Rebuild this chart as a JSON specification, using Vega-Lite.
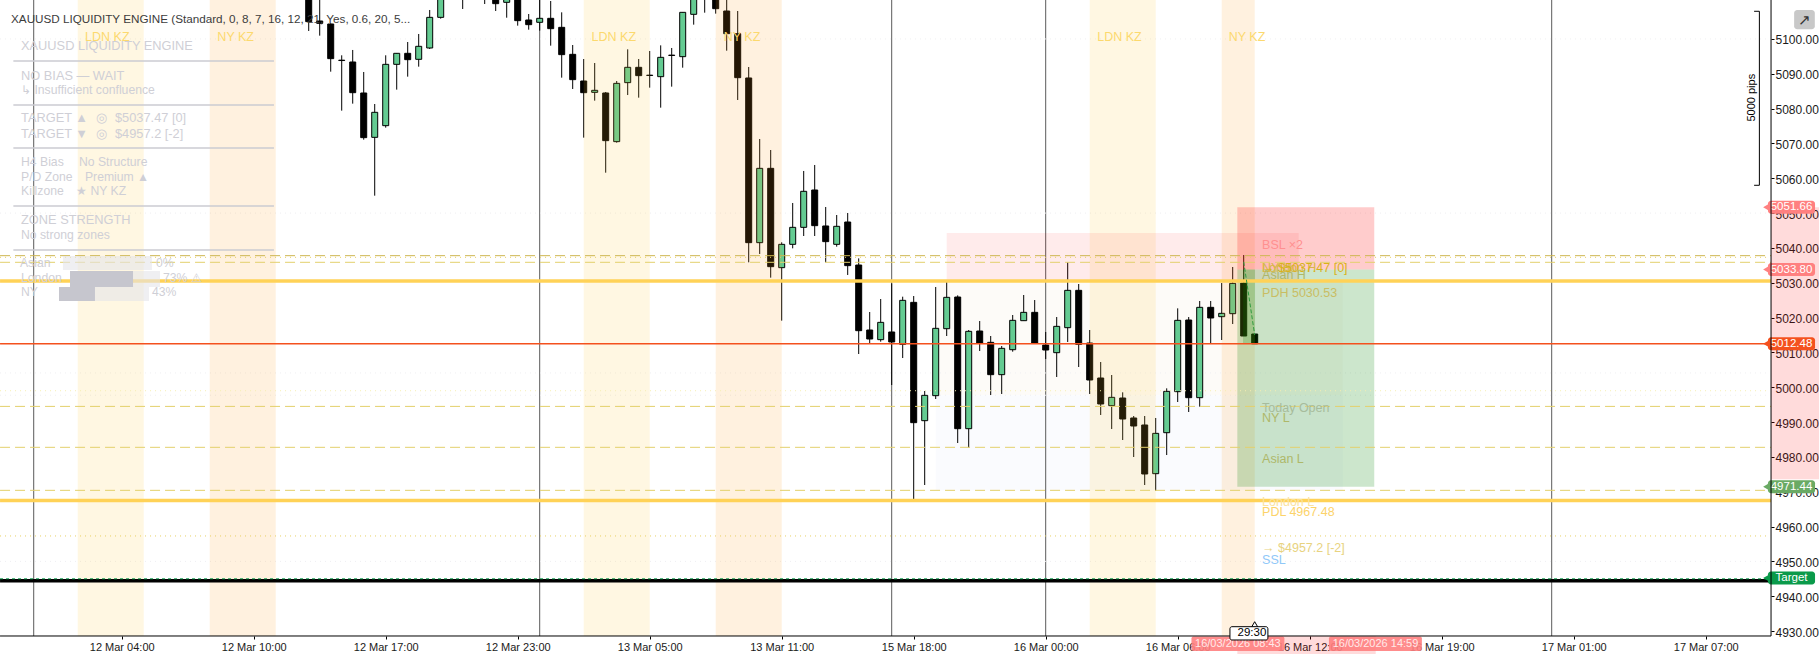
{"$schema":"https://vega.github.io/schema/vega-lite/v6.json","width":1819,"height":654,"padding":0,"autosize":"none","background":"#ffffff",
"config":{"view":{"stroke":null},"text":{"font":"Liberation Sans"}},
"datasets":{
"seps":[{"t":-8,"price":5111.18,"price2":4928.58},{"t":38,"price":5111.18,"price2":4928.58},{"t":70,"price":5111.18,"price2":4928.58},{"t":84,"price":5111.18,"price2":4928.58},{"t":130,"price":5111.18,"price2":4928.58}],
"softBox":[{"t":74,"t2":111,"price":5030.53,"price2":4997.7,"kind":"premium"},{"t":74,"t2":111,"price":4997.7,"price2":4970.4,"kind":"discount"}],
"candles":[
{"t":17,"open":5125,"high":5130,"low":5102.28,"close":5104.96,"dir":"down"},
{"t":18,"open":5105.15,"high":5115,"low":5100.94,"close":5104.48,"dir":"down"},
{"t":19,"open":5104.29,"high":5104.5,"low":5090.6,"close":5094.34,"dir":"down"},
{"t":20,"open":5093.9,"high":5095.3,"low":5079.41,"close":5093.8,"dir":"down"},
{"t":21,"open":5093.38,"high":5096.83,"low":5081.42,"close":5084.57,"dir":"down"},
{"t":22,"open":5084.48,"high":5090.51,"low":5071.08,"close":5071.66,"dir":"down"},
{"t":23,"open":5071.75,"high":5081.32,"low":5055.0,"close":5078.93,"dir":"up"},
{"t":24,"open":5075.1,"high":5095.3,"low":5074.53,"close":5092.71,"dir":"up"},
{"t":25,"open":5092.71,"high":5095.9,"low":5085.44,"close":5095.87,"dir":"up"},
{"t":26,"open":5095.87,"high":5099.12,"low":5089.17,"close":5094.05,"dir":"down"},
{"t":27,"open":5094.15,"high":5101.42,"low":5092.04,"close":5097.88,"dir":"up"},
{"t":28,"open":5097.4,"high":5108.31,"low":5097.11,"close":5106.2,"dir":"up"},
{"t":29,"open":5106.2,"high":5120,"low":5105.82,"close":5118,"dir":"up"},
{"t":31,"open":5115,"high":5118,"low":5108.6,"close":5113,"dir":"down"},
{"t":33,"open":5115,"high":5117,"low":5110.03,"close":5113,"dir":"down"},
{"t":34,"open":5114,"high":5116,"low":5108.02,"close":5110.13,"dir":"down"},
{"t":35,"open":5110.51,"high":5116,"low":5106.1,"close":5114,"dir":"up"},
{"t":36,"open":5113,"high":5115,"low":5103.81,"close":5105.25,"dir":"down"},
{"t":37,"open":5105.44,"high":5107.16,"low":5102.66,"close":5104.1,"dir":"down"},
{"t":38,"open":5104.77,"high":5111.5,"low":5102.38,"close":5105.92,"dir":"up"},
{"t":39,"open":5105.92,"high":5110.89,"low":5098.07,"close":5102.95,"dir":"down"},
{"t":40,"open":5103.33,"high":5107.64,"low":5088.88,"close":5095.49,"dir":"down"},
{"t":41,"open":5095.58,"high":5098.26,"low":5085.63,"close":5088.31,"dir":"down"},
{"t":42,"open":5087.92,"high":5094.24,"low":5071.66,"close":5084.57,"dir":"down"},
{"t":43,"open":5084.67,"high":5093.09,"low":5082.28,"close":5085.25,"dir":"up"},
{"t":44,"open":5084.48,"high":5084.77,"low":5061.6,"close":5070.8,"dir":"down"},
{"t":45,"open":5070.51,"high":5087.92,"low":5070.22,"close":5087.25,"dir":"up"},
{"t":46,"open":5087.45,"high":5097.02,"low":5083.9,"close":5091.85,"dir":"up"},
{"t":47,"open":5091.85,"high":5094.24,"low":5083.14,"close":5089.46,"dir":"down"},
{"t":48,"open":5089.6,"high":5096.54,"low":5086.01,"close":5089.5,"dir":"down"},
{"t":49,"open":5089.17,"high":5098.16,"low":5080.27,"close":5094.72,"dir":"up"},
{"t":50,"open":5095.35,"high":5097.4,"low":5086.3,"close":5095.25,"dir":"down"},
{"t":51,"open":5094.91,"high":5107.64,"low":5091.75,"close":5107.64,"dir":"up"},
{"t":52,"open":5107.07,"high":5118,"low":5104.1,"close":5116,"dir":"up"},
{"t":53,"open":5114,"high":5116,"low":5107.54,"close":5112,"dir":"down"},
{"t":54,"open":5116,"high":5118,"low":5107.26,"close":5108.69,"dir":"down"},
{"t":55,"open":5108.02,"high":5112,"low":5096.63,"close":5101.51,"dir":"down"},
{"t":56,"open":5101.51,"high":5108.02,"low":5082.47,"close":5088.88,"dir":"down"},
{"t":57,"open":5088.79,"high":5091.94,"low":5035.86,"close":5041.51,"dir":"down"},
{"t":58,"open":5041.51,"high":5071.27,"low":5038.26,"close":5062.85,"dir":"up"},
{"t":59,"open":5062.85,"high":5068.11,"low":5031.46,"close":5034.62,"dir":"down"},
{"t":60,"open":5034.33,"high":5041.61,"low":5019.12,"close":5041.03,"dir":"up"},
{"t":61,"open":5041.03,"high":5052.9,"low":5039.88,"close":5045.91,"dir":"up"},
{"t":62,"open":5045.91,"high":5062.09,"low":5043.42,"close":5056.25,"dir":"up"},
{"t":63,"open":5056.63,"high":5063.81,"low":5043.42,"close":5046.39,"dir":"down"},
{"t":64,"open":5046.3,"high":5051.75,"low":5035.86,"close":5041.8,"dir":"down"},
{"t":65,"open":5041.03,"high":5049.45,"low":5040.36,"close":5046.2,"dir":"up"},
{"t":66,"open":5047.44,"high":5050.03,"low":5032.23,"close":5034.91,"dir":"down"},
{"t":67,"open":5035.09,"high":5037.0,"low":5009.54,"close":5016.24,"dir":"down"},
{"t":68,"open":5016.43,"high":5021.6,"low":5012.41,"close":5013.85,"dir":"down"},
{"t":69,"open":5013.66,"high":5025.33,"low":5013.08,"close":5018.63,"dir":"up"},
{"t":70,"open":5015.86,"high":5029.83,"low":5000.64,"close":5012.99,"dir":"down"},
{"t":71,"open":5012.32,"high":5026.0,"low":5008.39,"close":5024.95,"dir":"up"},
{"t":72,"open":5024.37,"high":5026.19,"low":4967.62,"close":4989.83,"dir":"down"},
{"t":73,"open":4990.4,"high":4998.92,"low":4971.93,"close":4997.67,"dir":"up"},
{"t":74,"open":4997.58,"high":5028.78,"low":4996.62,"close":5016.91,"dir":"up"},
{"t":75,"open":5016.81,"high":5030.79,"low":5014.71,"close":5025.81,"dir":"up"},
{"t":76,"open":5025.9,"high":5026.38,"low":4983.99,"close":4988.1,"dir":"down"},
{"t":77,"open":4988.1,"high":5016.43,"low":4982.65,"close":5016.05,"dir":"up"},
{"t":78,"open":5016.14,"high":5019.01,"low":5010.4,"close":5012.7,"dir":"down"},
{"t":79,"open":5012.89,"high":5014.71,"low":4997.77,"close":5003.61,"dir":"down"},
{"t":80,"open":5003.61,"high":5011.84,"low":4998.06,"close":5011.17,"dir":"up"},
{"t":81,"open":5010.78,"high":5020.74,"low":5010.21,"close":5019.21,"dir":"up"},
{"t":82,"open":5019.11,"high":5026.48,"low":5019.11,"close":5021.5,"dir":"up"},
{"t":83,"open":5021.5,"high":5025.04,"low":5012.41,"close":5012.7,"dir":"down"},
{"t":84,"open":5012.12,"high":5015.86,"low":5008.1,"close":5010.69,"dir":"down"},
{"t":85,"open":5009.92,"high":5020.16,"low":5002.94,"close":5017.48,"dir":"up"},
{"t":86,"open":5017.1,"high":5035.86,"low":5012.99,"close":5027.82,"dir":"up"},
{"t":87,"open":5027.82,"high":5029.64,"low":5005.81,"close":5012.32,"dir":"down"},
{"t":88,"open":5012.7,"high":5016.43,"low":4998.06,"close":5002.08,"dir":"down"},
{"t":89,"open":5002.65,"high":5007.24,"low":4992.03,"close":4995.19,"dir":"down"},
{"t":90,"open":4994.71,"high":5003.51,"low":4988.01,"close":4997.1,"dir":"up"},
{"t":91,"open":4996.91,"high":4998.54,"low":4984.85,"close":4990.88,"dir":"down"},
{"t":92,"open":4991.17,"high":4991.74,"low":4979.97,"close":4988.87,"dir":"down"},
{"t":93,"open":4989.16,"high":4991.74,"low":4971.93,"close":4975.09,"dir":"down"},
{"t":94,"open":4975.18,"high":4991.17,"low":4970.21,"close":4986.76,"dir":"up"},
{"t":95,"open":4986.95,"high":4999.68,"low":4980.54,"close":4998.82,"dir":"up"},
{"t":96,"open":4998.73,"high":5022.65,"low":4995.76,"close":5019.21,"dir":"up"},
{"t":97,"open":5019.3,"high":5020.16,"low":4992.89,"close":4997.0,"dir":"down"},
{"t":98,"open":4997.0,"high":5024.76,"low":4994.42,"close":5022.94,"dir":"up"},
{"t":99,"open":5022.94,"high":5024.76,"low":5012.41,"close":5019.88,"dir":"down"},
{"t":100,"open":5020.26,"high":5029.92,"low":5013.56,"close":5021.22,"dir":"up"},
{"t":101,"open":5021.12,"high":5034.52,"low":5018.15,"close":5029.83,"dir":"up"},
{"t":102,"open":5029.92,"high":5037.96,"low":5014.71,"close":5014.71,"dir":"down"},
{"t":103,"open":5015.28,"high":5015.28,"low":5012.41,"close":5012.48,"dir":"down"}],
"bands":[{"t":-4,"t2":2,"price":5111.18,"price2":4928.58,"kind":"LDN"},{"t":8,"t2":14,"price":5111.18,"price2":4928.58,"kind":"NY"},{"t":42,"t2":48,"price":5111.18,"price2":4928.58,"kind":"LDN"},{"t":54,"t2":60,"price":5111.18,"price2":4928.58,"kind":"NY"},{"t":88,"t2":94,"price":5111.18,"price2":4928.58,"kind":"LDN"},{"t":100,"t2":103,"price":5111.18,"price2":4928.58,"kind":"NY"}],
"zoneBox":[{"t":75,"t2":107,"price":5044.28,"price2":5030.53}],
"trade":[{"t":101.42,"t2":113.87,"price":5051.66,"price2":5033.8,"kind":"stop"},{"t":101.42,"t2":113.87,"price":5033.8,"price2":4971.44,"kind":"profit"},{"t":101.94,"t2":103.03,"price":5033.8,"price2":5012.4,"kind":"profit"}],
"gutter":[{"t":149.94,"t2":154.3,"price":5051.66,"price2":4973.56},{"t":101.42,"t2":114,"price":4928.58,"price2":4923.41}],
"dashed":[{"t":-11.06,"t2":149.94,"price":5037.77,"kind":"a"},{"t":-11.06,"t2":149.94,"price":5035.87,"kind":"b"},{"t":-11.06,"t2":149.94,"price":4994.5,"kind":"b"},{"t":-11.06,"t2":149.94,"price":4982.75,"kind":"b"},{"t":-11.06,"t2":149.94,"price":4970.4,"kind":"b"}],
"dottedColor":[{"t":-11.06,"t2":149.7,"price":5037.3,"kind":"gold"},{"t":-11.06,"t2":149.7,"price":4999,"kind":"pale"},{"t":-11.06,"t2":149.7,"price":4957.3,"kind":"gold"}],
"dottedGrey":[{"t":-11.06,"t2":149.7,"price":5100},{"t":-11.06,"t2":149.7,"price":5050},{"t":-11.06,"t2":149.7,"price":5004.1},{"t":-11.06,"t2":149.7,"price":4997.7},{"t":-11.06,"t2":149.7,"price":4950}],
"pdLevels":[{"t":-11.06,"t2":149.94,"price":5030.53},{"t":-11.06,"t2":149.94,"price":4967.48}],
"bidLine":[{"t":-11.06,"t2":149.94,"price":5012.48}],
"targetLine":[{"t":-11.06,"t2":149.94,"price":4944.46}],
"targetDash":[{"t":-11.06,"t2":149.94,"price":4945.0}],
"panelRules":[{"t":-9.85,"t2":13.84,"price":5093.67},{"t":-9.85,"t2":13.84,"price":5081.03},{"t":-9.85,"t2":13.84,"price":5068.69},{"t":-9.85,"t2":13.84,"price":5052.04},{"t":-9.85,"t2":13.84,"price":5039.4}],
"panelHatch":[{"t":-5.34,"t2":2.75,"price":5037.68,"price2":5033.66},{"t":1.03,"t2":3.48,"price":5033.37,"price2":5028.78},{"t":-2.43,"t2":2.48,"price":5028.78,"price2":5024.76}],
"panelSolid":[{"t":-4.7,"t2":1.03,"price":5033.37,"price2":5028.78},{"t":-5.7,"t2":-2.43,"price":5028.78,"price2":5024.76}],
"panelLarge":[{"t":-9.15,"price":5097.97,"text":"XAUUSD LIQUIDITY ENGINE"},{"t":-9.15,"price":5089.5,"text":"NO BIAS — WAIT"},{"t":-9.15,"price":5077.16,"text":"TARGET ▲"},{"t":-2.34,"price":5077.16,"text":"◎"},{"t":-0.61,"price":5077.16,"text":"$5037.47  [0]"},{"t":-9.15,"price":5072.85,"text":"TARGET ▼"},{"t":-2.34,"price":5072.85,"text":"◎"},{"t":-0.61,"price":5072.85,"text":"$4957.2  [-2]"},{"t":-9.15,"price":5048.02,"text":"ZONE STRENGTH"}],
"panelSmall":[{"t":-9.15,"price":5085.48,"text":"↳ Insufficient confluence"},{"t":-9.15,"price":5064.67,"text":"H4 Bias"},{"t":-3.88,"price":5064.67,"text":"No Structure"},{"t":-9.15,"price":5060.5,"text":"P/D Zone"},{"t":-3.34,"price":5060.5,"text":"Premium ▲"},{"t":-9.15,"price":5056.34,"text":"Killzone"},{"t":-4.15,"price":5056.34,"text":"★ NY KZ"},{"t":-9.15,"price":5043.85,"text":"No strong zones"},{"t":-9.25,"price":5035.67,"text":"Asian"},{"t":3.12,"price":5035.67,"text":"0%"},{"t":-9.15,"price":5031.37,"text":"London"},{"t":3.75,"price":5031.37,"text":"73% ⚠"},{"t":-9.15,"price":5027.35,"text":"NY"},{"t":2.75,"price":5027.35,"text":"43%"}],
"kzLabels":[{"t":-1.31,"price":5100.56,"text":"LDN KZ"},{"t":10.36,"price":5100.56,"text":"NY KZ"},{"t":44.74,"price":5100.56,"text":"LDN KZ"},{"t":56.39,"price":5100.56,"text":"NY KZ"},{"t":90.71,"price":5100.56,"text":"LDN KZ"},{"t":102.3,"price":5100.56,"text":"NY KZ"}],
"levelLabels":[{"t":103.67,"price":5040.84,"text":"BSL ×2","kind":"bsl"},{"t":103.67,"price":5034.24,"text":"London H","kind":"high"},{"t":103.67,"price":5034.24,"text":"NY H","kind":"high"},{"t":103.67,"price":5034.24,"text":"→ $5037.47  [0]","kind":"target"},{"t":103.67,"price":5032.22,"text":"Asian H","kind":"asian"},{"t":103.67,"price":5026.97,"text":"PDH  5030.53","kind":"pdh"},{"t":103.67,"price":4994.12,"text":"Today Open","kind":"today"},{"t":103.67,"price":4991.08,"text":"NY L","kind":"asian"},{"t":103.67,"price":4979.31,"text":"Asian L","kind":"asian"},{"t":103.67,"price":4967.05,"text":"London L","kind":"londonl"},{"t":103.67,"price":4964.09,"text":"PDL  4967.48","kind":"pdl"},{"t":103.67,"price":4953.76,"text":"→ $4957.2  [-2]","kind":"targetl"},{"t":103.67,"price":4950.4,"text":"SSL","kind":"ssl"}],
"priceTags":[{"t":149.66,"t2":153.94,"price":5053.53,"price2":5049.79,"mid":5051.66,"label":"5051.66","kind":"sl","tip":149.55,"textT":151.8},{"t":149.66,"t2":153.94,"price":5035.67,"price2":5031.93,"mid":5033.8,"label":"5033.80","kind":"sl","tip":149.55,"textT":151.8},{"t":149.66,"t2":153.94,"price":5014.35,"price2":5010.61,"mid":5012.48,"label":"5012.48","kind":"bid","tip":149.55,"textT":151.8},{"t":149.66,"t2":153.94,"price":4973.31,"price2":4969.57,"mid":4971.44,"label":"4971.44","kind":"tp","tip":149.55,"textT":151.8},{"t":149.66,"t2":153.94,"price":4947.07,"price2":4943.33,"mid":4945.2,"label":"Target","kind":"target","tip":149.55,"textT":151.8}],
"timeTags":[{"t":97.25,"t2":105.7,"price":4928.4,"price2":4924.27,"mid":4926.3,"textT":101.47,"label":"16/03/2026 08:43"},{"t":109.75,"t2":118.2,"price":4928.4,"price2":4924.27,"mid":4926.3,"textT":113.98,"label":"16/03/2026 14:59"}],
"bubble":[{"t":100.75,"t2":104.2,"price":4931.25,"price2":4927.43}],
"bracket":[{"t":148.4,"price":5107.94,"order":1},{"t":148.88,"price":5107.94,"order":2},{"t":148.88,"price":5057.98,"order":3},{"t":148.4,"price":5057.98,"order":4}],
"trendline":[{"t":102,"price":5036},{"t":103,"price":5015}],
"iconBox":[{"t":152.04,"t2":153.92,"price":5108.3,"price2":5102.77}]
},
"encoding":{
"x":{"field":"t","type":"quantitative","scale":{"domain":[-11.064,154.3],"nice":false,"zero":false,"padding":0},"axis":{"orient":"bottom","offset":-18,"title":null,"grid":false,"domain":false,"tickColor":"#000000","tickSize":3,"labelFont":"Liberation Sans","labelFontSize":11,"labelColor":"#1a1a1a","labelPadding":2,"labelFlush":false,"labelOverlap":false,"values":[0,12,24,36,48,60,72,84,96,108,120,132,144],"labelExpr":"['12 Mar 04:00','12 Mar 10:00','12 Mar 17:00','12 Mar 23:00','13 Mar 05:00','13 Mar 11:00','15 Mar 18:00','16 Mar 00:00','16 Mar 06:00','16 Mar 12:00','16 Mar 19:00','17 Mar 01:00','17 Mar 07:00'][datum.value/12]"}},
"y":{"field":"price","type":"quantitative","scale":{"domain":[4923.41,5111.18],"nice":false,"zero":false,"padding":0},"axis":{"orient":"right","offset":-48,"title":null,"grid":false,"domain":false,"tickColor":"#000000","tickSize":3,"labelFont":"Liberation Sans","labelFontSize":12,"labelColor":"#1a1a1a","labelPadding":1,"labelOffset":1,"labelFlush":false,"labelOverlap":false,"format":".2f","values":[4930,4940,4950,4960,4970,4980,4990,5000,5010,5020,5030,5040,5050,5060,5070,5080,5090,5100]}}
},
"resolve":{"scale":{"color":"independent"}},
"layer":[
{"data":{"name":"gutter"},"mark":{"type":"rect","color":"#ff0000","opacity":0.14},"encoding":{"x2":{"field":"t2"},"y2":{"field":"price2"}}},
{"data":{"name":"softBox"},"mark":{"type":"rect"},"encoding":{"x2":{"field":"t2"},"y2":{"field":"price2"},"color":{"field":"kind","scale":{"domain":["premium","discount"],"range":["#fdfbf8","#fafbfe"]},"legend":null}}},
{"data":{"name":"seps"},"mark":{"type":"rule","color":"#5a5a5a","strokeWidth":1},"encoding":{"y2":{"field":"price2"}}},
{"data":{"name":"dottedGrey"},"mark":{"type":"rule","color":"#eeeef1","strokeWidth":1,"strokeDash":[1,4]},"encoding":{"x2":{"field":"t2"}}},
{"data":{"name":"candles"},"mark":{"type":"rule","color":"#000000","strokeWidth":1},"encoding":{"y":{"field":"low","type":"quantitative"},"y2":{"field":"high"}}},
{"data":{"name":"candles"},"mark":{"type":"bar","orient":"vertical","size":6,"stroke":"#000000","strokeWidth":1},"encoding":{"y":{"field":"open","type":"quantitative"},"y2":{"field":"close"},"color":{"field":"dir","scale":{"domain":["up","down"],"range":["#64cb92","#000000"]},"legend":null}}},
{"data":{"name":"bands"},"mark":{"type":"rect","opacity":0.14},"encoding":{"x2":{"field":"t2"},"y2":{"field":"price2"},"color":{"field":"kind","scale":{"domain":["LDN","NY"],"range":["#ffc933","#ff9a1e"]},"legend":null}}},
{"data":{"name":"zoneBox"},"mark":{"type":"rect","color":"#ff0000","opacity":0.08},"encoding":{"x2":{"field":"t2"},"y2":{"field":"price2"}}},
{"data":{"name":"trade"},"mark":{"type":"rect","opacity":0.2},"encoding":{"x2":{"field":"t2"},"y2":{"field":"price2"},"color":{"field":"kind","scale":{"domain":["stop","profit"],"range":["#ff0000","#008000"]},"legend":null}}},
{"data":{"name":"dashed"},"mark":{"type":"rule","strokeWidth":1,"strokeDash":[10,5]},"encoding":{"x2":{"field":"t2"},"color":{"field":"kind","scale":{"domain":["a","b"],"range":["#cdb650","#e3d06c"]},"legend":null}}},
{"data":{"name":"dottedColor"},"mark":{"type":"rule","strokeWidth":1,"strokeDash":[1,4]},"encoding":{"x2":{"field":"t2"},"color":{"field":"kind","scale":{"domain":["gold","pale"],"range":["#e8cf60","#f6eeb0"]},"legend":null}}},
{"data":{"name":"bidLine"},"mark":{"type":"rule","color":"#f4511e","strokeWidth":1.5},"encoding":{"x2":{"field":"t2"}}},
{"data":{"name":"pdLevels"},"mark":{"type":"rule","color":"#ffd257","strokeWidth":3.5},"encoding":{"x2":{"field":"t2"}}},
{"data":{"name":"targetLine"},"mark":{"type":"rule","color":"#000000","strokeWidth":3.5},"encoding":{"x2":{"field":"t2"}}},
{"data":{"name":"targetDash"},"mark":{"type":"rule","color":"#0a9a4a","strokeWidth":1,"strokeDash":[3,3]},"encoding":{"x2":{"field":"t2"}}},
{"data":{"name":"trendline"},"mark":{"type":"line","color":"#2e9a3e","strokeWidth":1,"strokeDash":[4,2]},"encoding":{}},
{"data":{"name":"panelRules"},"mark":{"type":"rule","color":"#cbcbd2","strokeWidth":1.5},"encoding":{"x2":{"field":"t2"}}},
{"data":{"name":"panelHatch"},"mark":{"type":"rect","color":"#e4e4e9","opacity":0.6},"encoding":{"x2":{"field":"t2"},"y2":{"field":"price2"}}},
{"data":{"name":"panelSolid"},"mark":{"type":"rect","color":"#c6c6ce"},"encoding":{"x2":{"field":"t2"},"y2":{"field":"price2"}}},
{"data":{"name":"panelLarge"},"mark":{"type":"text","align":"left","baseline":"middle","fontSize":12.8,"color":"#cfcfd6"},"encoding":{"text":{"field":"text"}}},
{"data":{"name":"panelSmall"},"mark":{"type":"text","align":"left","baseline":"middle","fontSize":12.2,"color":"#cfcfd6"},"encoding":{"text":{"field":"text"}}},
{"data":{"name":"kzLabels"},"mark":{"type":"text","align":"center","baseline":"middle","fontSize":12.5,"color":"#fcd96e"},"encoding":{"text":{"field":"text"}}},
{"data":{"values":[{"t":-10.06,"price":5105.81,"text":"XAUUSD LIQUIDITY ENGINE (Standard, 0, 8, 7, 16, 12, 21, Yes, 0.6, 20, 5..."}]},"mark":{"type":"text","align":"left","baseline":"middle","fontSize":11.7,"color":"#3c3c3c"},"encoding":{"text":{"field":"text"}}},
{"data":{"name":"levelLabels"},"mark":{"type":"text","align":"left","baseline":"middle","fontSize":12.5},"encoding":{"text":{"field":"text"},"color":{"field":"kind","scale":{"domain":["bsl","high","target","asian","pdh","today","londonl","pdl","targetl","ssl"],"range":["#ff9090","#d5b84a","#d9b21a","#aeb86a","#c9bd63","#a7bc9c","#fbe3a0","#fcd36a","#e8d380","#90c8f8"]},"legend":null}}},
{"data":{"name":"priceTags"},"mark":{"type":"point","filled":true,"shape":"triangle-left","size":70,"opacity":1},"encoding":{"x":{"field":"tip","type":"quantitative"},"y":{"field":"mid","type":"quantitative"},"color":{"field":"kind","scale":{"domain":["sl","bid","tp","target"],"range":["#ff8080","#f4511e","#6aaa64","#0a9a4a"]},"legend":null}}},
{"data":{"name":"priceTags"},"mark":{"type":"rect","cornerRadius":3},"encoding":{"x2":{"field":"t2"},"y2":{"field":"price2"},"color":{"field":"kind","scale":{"domain":["sl","bid","tp","target"],"range":["#ff8080","#f4511e","#6aaa64","#0a9a4a"]},"legend":null}}},
{"data":{"name":"priceTags"},"mark":{"type":"text","align":"center","baseline":"middle","fontSize":11.5,"color":"#ffffff"},"encoding":{"x":{"field":"textT","type":"quantitative"},"y":{"field":"mid","type":"quantitative"},"text":{"field":"label"}}},
{"data":{"name":"timeTags"},"mark":{"type":"rect","color":"#ff7f7f","opacity":0.9,"cornerRadius":2},"encoding":{"x2":{"field":"t2"},"y2":{"field":"price2"}}},
{"data":{"name":"timeTags"},"mark":{"type":"text","align":"center","baseline":"middle","fontSize":11,"color":"#ffe9e9"},"encoding":{"x":{"field":"textT","type":"quantitative"},"y":{"field":"mid","type":"quantitative"},"text":{"field":"label"}}},
{"data":{"name":"bracket"},"mark":{"type":"line","color":"#000000","strokeWidth":1},"encoding":{"order":{"field":"order"}}},
{"data":{"values":[{"t":148.18,"price":5083.13,"text":"5000 pips"}]},"mark":{"type":"text","align":"center","baseline":"middle","angle":270,"fontSize":11,"color":"#000000"},"encoding":{"text":{"field":"text"}}},
{"data":{"name":"iconBox"},"mark":{"type":"rect","color":"#c8c8c8","cornerRadius":3},"encoding":{"x2":{"field":"t2"},"y2":{"field":"price2"}}},
{"data":{"values":[{"t":152.98,"price":5105.5,"text":"↗"}]},"mark":{"type":"text","align":"center","baseline":"middle","fontSize":15,"color":"#333333"},"encoding":{"text":{"field":"text"}}},
{"data":{"values":[{"t":149.94,"price":5111.18,"price2":4928.58}]},"mark":{"type":"rule","color":"#000000","strokeWidth":1},"encoding":{"y2":{"field":"price2"}}},
{"data":{"values":[{"t":-11.06,"t2":149.94,"price":4928.58}]},"mark":{"type":"rule","color":"#000000","strokeWidth":1},"encoding":{"x2":{"field":"t2"}}},
{"data":{"values":[{"t":103,"price":4931.9}]},"mark":{"type":"point","shape":"triangle-up","filled":true,"size":40,"color":"#ffffff","stroke":"#000000","strokeWidth":1,"opacity":1},"encoding":{}},
{"data":{"name":"bubble"},"mark":{"type":"rect","color":"#ffffff","stroke":"#000000","strokeWidth":1,"cornerRadius":2},"encoding":{"x2":{"field":"t2"},"y2":{"field":"price2"}}},
{"data":{"values":[{"t":102.75,"price":4929.3,"text":"29:30"}]},"mark":{"type":"text","align":"center","baseline":"middle","fontSize":11.5,"color":"#000000"},"encoding":{"text":{"field":"text"}}}
]}
